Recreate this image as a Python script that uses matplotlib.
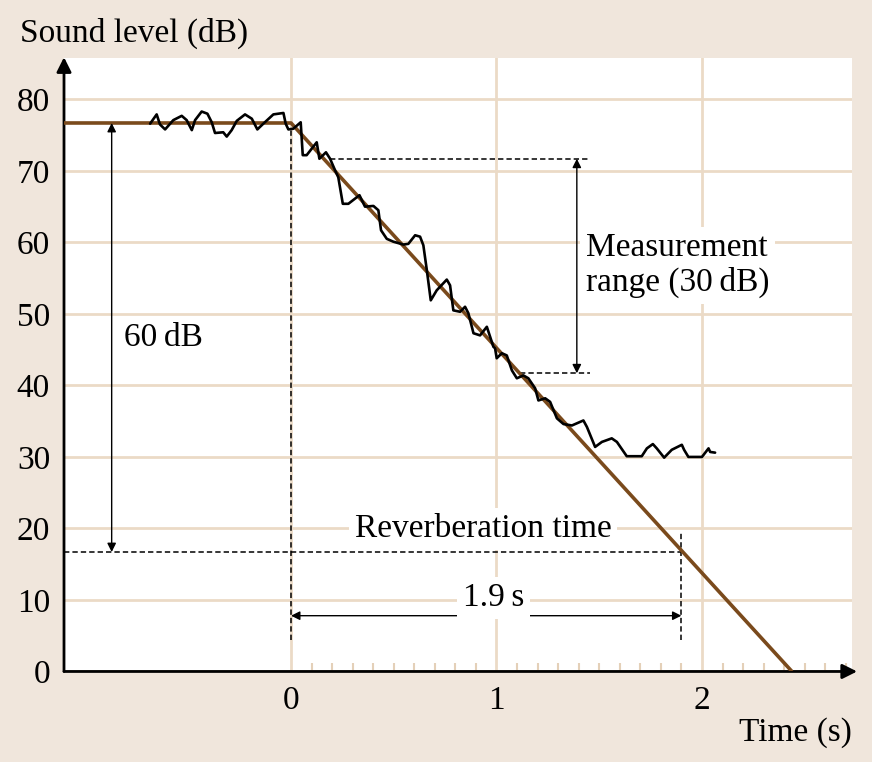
import matplotlib
matplotlib.use('Agg')
import matplotlib.pyplot as plt
from matplotlib.ticker import FixedLocator

# measured sound level (wiggly trace)
meas_t = [-0.686, -0.654, -0.638, -0.613, -0.573, -0.532, -0.508, -0.483, -0.467, -0.435,
          -0.407, -0.386, -0.370, -0.330, -0.313, -0.289, -0.264, -0.224, -0.191, -0.164,
          -0.135, -0.086, -0.037, -0.026, -0.013, 0.011, 0.047, 0.057, 0.076, 0.125,
          0.138, 0.170, 0.190, 0.214, 0.230, 0.252, 0.279, 0.333, 0.360, 0.401,
          0.425, 0.438, 0.466, 0.498, 0.547, 0.571, 0.604, 0.628, 0.644, 0.661,
          0.680, 0.709, 0.758, 0.774, 0.790, 0.823, 0.847, 0.863, 0.888, 0.920,
          0.953, 0.969, 0.985, 0.993, 1.001, 1.026, 1.050, 1.075, 1.099, 1.131,
          1.155, 1.188, 1.204, 1.237, 1.261, 1.294, 1.326, 1.367, 1.423, 1.440,
          1.480, 1.513, 1.561, 1.586, 1.634, 1.707, 1.732, 1.761, 1.780, 1.816,
          1.853, 1.902, 1.913, 1.934, 2.000, 2.032, 2.040, 2.064]
meas_L = [76.6, 77.9, 76.5, 75.8, 77.1, 77.7, 77.1, 75.7, 77.1, 78.3,
          78.0, 76.8, 75.3, 75.4, 74.8, 75.7, 77.0, 77.9, 77.3, 75.8,
          76.6, 77.9, 78.1, 76.6, 75.8, 75.9, 76.8, 72.2, 72.2, 74.0,
          71.7, 72.6, 71.7, 70.1, 69.1, 65.4, 65.4, 66.6, 65.0, 65.1,
          64.5, 61.7, 60.5, 60.1, 59.7, 59.8, 61.0, 60.8, 59.6, 56.1,
          51.9, 53.3, 54.8, 54.0, 50.5, 50.3, 51.0, 50.1, 47.3, 47.0,
          48.2, 46.8, 45.4, 45.2, 43.8, 44.5, 44.2, 42.1, 41.0, 41.4,
          41.0, 39.6, 37.9, 38.2, 37.7, 35.4, 34.6, 34.4, 35.1, 34.2,
          31.4, 32.1, 32.6, 32.1, 30.1, 30.1, 31.2, 31.8, 31.2, 29.9,
          31.0, 31.7, 31.0, 30.0, 30.0, 31.2, 30.7, 30.6]

# idealised decay
fit_t = [-1.105, 0.0, 2.438]
fit_L = [76.7, 76.7, 0.0]

level0 = 76.7
level60 = 16.7
rt = 1.9
meas_top, meas_bot = 71.7, 41.7

yticks = [0, 10, 20, 30, 40, 50, 60, 70, 80]
xticks = [0, 1, 2]
xminor = [i / 10 for i in range(1, 28) if i % 10 != 0]

bg = '#f0e6dc'
gridc = '#ebdac6'
tickc = '#e4d0b8'
brown = '#7a4a1c'
serif = ['Liberation Serif', 'DejaVu Serif']
fs = 24

plt.rcParams['font.family'] = serif

fig = plt.figure(figsize=(8.72, 7.62), dpi=100, facecolor=bg)
ax = fig.add_axes([0.0734, 0.1188, 0.9036, 0.8052])
ax.set_facecolor('white')
ax.set_xlim(-1.105, 2.73)
ax.set_ylim(0, 85.8)

for s in ax.spines.values():
    s.set_visible(False)

ax.set_yticks(yticks)
ax.set_xticks(xticks)
ax.xaxis.set_minor_locator(FixedLocator(xminor))
ax.tick_params(axis='both', which='major', length=0, labelsize=fs, pad=10)
ax.tick_params(axis='x', which='minor', direction='in', length=6, width=1.5,
               color=tickc)
ax.grid(True, which='major', color=gridc, linewidth=2)
ax.set_axisbelow(True)

# axis arrows
ax.annotate('', xy=(2.755, 0), xytext=(-1.105, 0), annotation_clip=False,
            arrowprops=dict(arrowstyle='-|>', color='black', lw=2,
                            mutation_scale=22, shrinkA=0, shrinkB=0))
ax.annotate('', xy=(-1.105, 85.9), xytext=(-1.105, 0), annotation_clip=False,
            arrowprops=dict(arrowstyle='-|>', color='black', lw=2,
                            mutation_scale=22, shrinkA=0, shrinkB=0))

# dashed helpers
dash = dict(color='black', lw=1.1, linestyle=(0, (3.5, 2)))
ax.plot([0, 0], [4.4, level0 - 1], **dash)
ax.plot([rt, rt], [4.4, 19.4], **dash)
ax.plot([-1.105, rt], [level60, level60], **dash)
ax.plot([0.19, 1.45], [meas_top, meas_top], **dash)
ax.plot([1.115, 1.456], [meas_bot, meas_bot], **dash)

# fit and measurement
ax.plot(fit_t, fit_L, color=brown, lw=2.6, solid_capstyle='butt', zorder=3)
ax.plot(meas_t, meas_L, color='black', lw=1.9, solid_joinstyle='round',
        solid_capstyle='round', zorder=4)

# dimension arrows
dim = dict(arrowstyle='<|-|>', color='black', lw=1.0, mutation_scale=13,
           shrinkA=0, shrinkB=0)
ax.annotate('', xy=(-0.873, level0), xytext=(-0.873, level60), arrowprops=dim)
ax.annotate('', xy=(1.391, meas_top), xytext=(1.391, meas_bot), arrowprops=dim)
ax.annotate('', xy=(0, 7.8), xytext=(rt, 7.8), arrowprops=dim)

box = dict(facecolor='white', edgecolor='none', pad=4)
ax.text(-0.815, 46.6, '60\u2009dB', fontsize=fs, ha='left', va='center')
ax.text(0.935, 19.9, 'Reverberation time', fontsize=fs, ha='center',
        va='center', bbox=box)
ax.text(0.985, 10.3, '1.9\u2009s', fontsize=fs, ha='center', va='center',
        bbox=box)
ax.text(1.436, 56.8, 'Measurement\nrange (30\u2009dB)', fontsize=fs, ha='left',
        va='center', linespacing=1.15, bbox=box)

fig.text(20 / 872, 1 - 33 / 762, 'Sound level (dB)', fontsize=fs,
         ha='left', va='center')
fig.text(852 / 872, 1 - 733 / 762, 'Time (s)', fontsize=fs,
         ha='right', va='center')

fig.savefig('out.png', dpi=100, facecolor=bg)
